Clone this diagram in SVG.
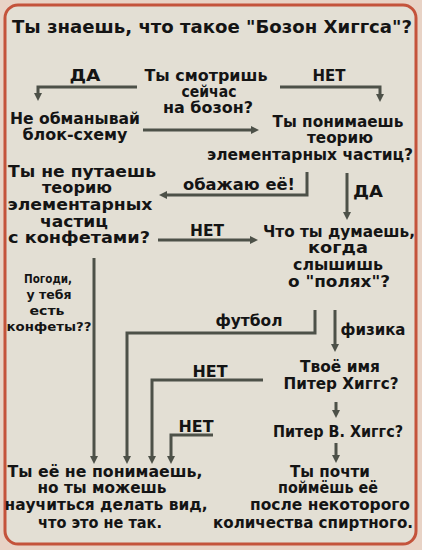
<svg xmlns="http://www.w3.org/2000/svg" width="422" height="550" viewBox="0 0 422 550">
<defs>
<marker id="ah" viewBox="0 0 8 8" markerWidth="8" markerHeight="8" refX="2" refY="4" orient="auto" markerUnits="userSpaceOnUse">
<path d="M0,0 L8,4 L0,8 z" fill="#4d5148"/>
</marker>
<style>
.t{font-family:"DejaVu Sans","Verdana",sans-serif;font-weight:bold;fill:#141414;font-size:15.5px;text-anchor:middle}
.s{font-size:12px}
.title{font-size:17px;text-anchor:start}
.c{fill:none;stroke:#4d5148;stroke-width:3;marker-end:url(#ah)}
</style>
</defs>
<rect x="0" y="0" width="422" height="550" fill="#e8d3c6"/>
<rect x="5" y="5" width="411" height="539" rx="13" fill="#e3dfd4" stroke="#c4533b" stroke-width="3"/>

<g id="title"><text class="t title" x="12" y="33" textLength="400" lengthAdjust="spacingAndGlyphs">Ты знаешь, что такое "Бозон Хиггса"?</text></g>

<g id="connectors">
<path class="c" d="M137,87 H38 V95"/>
<path class="c" d="M280,87 H380 V96"/>
<path class="c" d="M143,130 H253"/>
<path class="c" d="M307,172 V195 H165"/>
<path class="c" d="M347,173 V214"/>
<path class="c" d="M158,240 H252"/>
<path class="c" d="M94,258 V458"/>
<path class="c" d="M315,310 V333 H127 V458"/>
<path class="c" d="M335,310 V346"/>
<path class="c" d="M263,380 H152 V458"/>
<path class="c" d="M336,402 V412"/>
<path class="c" d="M213,435 H171 V458"/>
<path class="c" d="M336,443 V457"/>
</g>

<g id="edge-labels">
<text class="t" x="85" y="81" textLength="31" lengthAdjust="spacingAndGlyphs">ДА</text>
<text class="t" x="329" y="81" textLength="33" lengthAdjust="spacingAndGlyphs">НЕТ</text>
<text class="t" x="239" y="190" textLength="112" lengthAdjust="spacingAndGlyphs">обажаю её!</text>
<text class="t" x="368" y="197" textLength="30" lengthAdjust="spacingAndGlyphs">ДА</text>
<text class="t" x="207" y="236" textLength="34" lengthAdjust="spacingAndGlyphs">НЕТ</text>
<text class="t" x="249" y="326" textLength="67" lengthAdjust="spacingAndGlyphs">футбол</text>
<text class="t" x="373" y="335" textLength="65" lengthAdjust="spacingAndGlyphs">физика</text>
<text class="t" x="210" y="377" textLength="35" lengthAdjust="spacingAndGlyphs">НЕТ</text>
<text class="t" x="196" y="432" textLength="35" lengthAdjust="spacingAndGlyphs">НЕТ</text>
</g>

<g id="q-boson">
<text class="t" x="206" y="81" textLength="123" lengthAdjust="spacingAndGlyphs">Ты смотришь</text>
<text class="t" x="209" y="97" textLength="55" lengthAdjust="spacingAndGlyphs">сейчас</text>
<text class="t" x="208" y="113" textLength="90" lengthAdjust="spacingAndGlyphs">на бозон?</text>
</g>

<g id="dont-cheat">
<text class="t" x="75" y="124" textLength="130" lengthAdjust="spacingAndGlyphs">Не обманывай</text>
<text class="t" x="75" y="140" textLength="105" lengthAdjust="spacingAndGlyphs">блок-схему</text>
</g>

<g id="q-theory">
<text class="t" x="338" y="127" textLength="131" lengthAdjust="spacingAndGlyphs">Ты понимаешь</text>
<text class="t" x="340" y="143" textLength="66" lengthAdjust="spacingAndGlyphs">теорию</text>
<text class="t" x="310" y="160" textLength="206" lengthAdjust="spacingAndGlyphs">элементарных частиц?</text>
</g>

<g id="q-candy">
<text class="t" x="82" y="177" textLength="148" lengthAdjust="spacingAndGlyphs">Ты не путаешь</text>
<text class="t" x="77" y="193" textLength="70" lengthAdjust="spacingAndGlyphs">теорию</text>
<text class="t" x="80" y="210" textLength="145" lengthAdjust="spacingAndGlyphs">элементарных</text>
<text class="t" x="74" y="227" textLength="68" lengthAdjust="spacingAndGlyphs">частиц</text>
<text class="t" x="79" y="243" textLength="142" lengthAdjust="spacingAndGlyphs">с конфетами?</text>
</g>

<g id="q-fields">
<text class="t" x="339" y="237" textLength="152" lengthAdjust="spacingAndGlyphs">Что ты думаешь,</text>
<text class="t" x="338" y="253" textLength="60" lengthAdjust="spacingAndGlyphs">когда</text>
<text class="t" x="338" y="270" textLength="90" lengthAdjust="spacingAndGlyphs">слышишь</text>
<text class="t" x="339" y="287" textLength="102" lengthAdjust="spacingAndGlyphs">о "полях"?</text>
</g>

<g id="wait-candy">
<text class="t s" x="48" y="283" textLength="48" lengthAdjust="spacingAndGlyphs">Погоди,</text>
<text class="t s" x="49" y="299" textLength="45" lengthAdjust="spacingAndGlyphs">у тебя</text>
<text class="t s" x="47" y="315" textLength="35" lengthAdjust="spacingAndGlyphs">есть</text>
<text class="t s" x="49" y="331" textLength="85" lengthAdjust="spacingAndGlyphs">конфеты??</text>
</g>

<g id="q-name">
<text class="t" x="340" y="372" textLength="80" lengthAdjust="spacingAndGlyphs">Твоё имя</text>
<text class="t" x="341" y="389" textLength="115" lengthAdjust="spacingAndGlyphs">Питер Хиггс?</text>
</g>

<g id="q-name-v">
<text class="t" x="338" y="437" textLength="130" lengthAdjust="spacingAndGlyphs">Питер В. Хиггс?</text>
</g>

<g id="pretend">
<text class="t" x="105" y="477" textLength="195" lengthAdjust="spacingAndGlyphs">Ты её не понимаешь,</text>
<text class="t" x="102" y="493" textLength="129" lengthAdjust="spacingAndGlyphs">но ты можешь</text>
<text class="t" x="106" y="510" textLength="203" lengthAdjust="spacingAndGlyphs">научиться делать вид,</text>
<text class="t" x="100" y="528" textLength="124" lengthAdjust="spacingAndGlyphs">что это не так.</text>
</g>

<g id="almost">
<text class="t" x="330" y="477" textLength="80" lengthAdjust="spacingAndGlyphs">Ты почти</text>
<text class="t" x="328" y="493" textLength="100" lengthAdjust="spacingAndGlyphs">поймёшь её</text>
<text class="t" x="330" y="510" textLength="160" lengthAdjust="spacingAndGlyphs">после некоторого</text>
<text class="t" x="313" y="528" textLength="200" lengthAdjust="spacingAndGlyphs">количества спиртного.</text>
</g>
</svg>
